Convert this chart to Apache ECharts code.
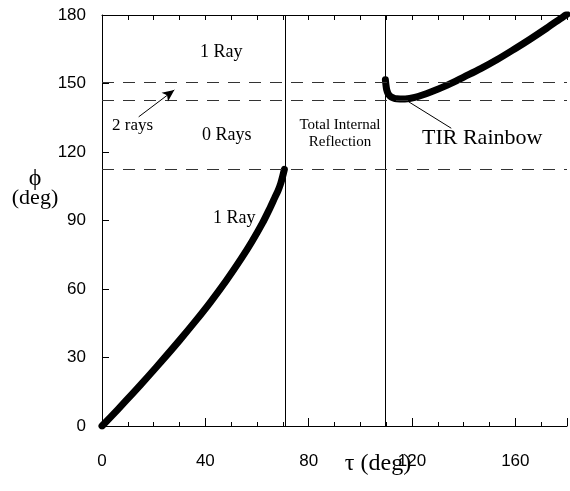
<!DOCTYPE html>
<html>
<head>
<meta charset="utf-8">
<script src="https://cdn.jsdelivr.net/npm/echarts@6/dist/echarts.min.js"></script>
<style>
  html, body { margin: 0; padding: 0; background: #fff; }
  #chart { width: 570px; height: 491px; }
</style>
</head>
<body>
<div id="chart"></div>
<script>
// curve below total internal reflection (1 ray region)
var tau1 = [0, 6, 12, 18, 24, 30, 36, 42, 48, 54, 58, 62, 65, 66.8, 68.2, 69.2, 69.9, 70.6];
var phi1 = [0, 7.1, 14.4, 21.9, 29.6, 37.5, 45.7, 54.3, 63.5, 73.5, 80.7, 88.6, 95.4, 99.8, 103.2, 106.3, 109.2, 112.4];

// TIR rainbow branch
var tau2 = [109.7, 109.9, 110.2, 110.7, 111.5, 112.6, 114.1, 117.3, 121.1, 127.5, 133.9, 140.2, 146.6, 153, 159.4, 165.7, 172.1, 178.5, 180];
var phi2 = [151.6, 149.5, 147.3, 145.7, 144.5, 143.8, 143.3, 143.2, 143.9, 146.4, 149.4, 152.9, 156.5, 160.5, 164.9, 169.4, 174.2, 179.2, 180.3];

// reference lines
var tirEdges = [70.9, 109.7];
var dashedPhi = [150.5, 142.8, 112.4];

var xTicks = [0, 40, 80, 120, 160];
var yTicks = [0, 30, 60, 90, 120, 150, 180];

function pairs(xs, ys) {
    var out = [];
    for (var i = 0; i < xs.length; i++) {
        out.push([xs[i], ys[i]]);
    }
    return out;
}

var sans = 'Liberation Sans';

var chart = echarts.init(document.getElementById('chart'));

var option = {
    animation: false,
    grid: { left: 102, top: 15, width: 470, height: 411 },
    xAxis: [{
        type: 'value',
        min: 0,
        max: 180,
        interval: 40,
        axisLine: { lineStyle: { color: '#000', width: 1 } },
        axisTick: { inside: true, length: 8, lineStyle: { color: '#000' } },
        minorTick: { show: true, splitNumber: 4, length: 4, lineStyle: { color: '#000' } },
        splitLine: { show: false },
        axisLabel: {
            color: '#000', fontFamily: sans, fontSize: 17, margin: 27,
            formatter: function (v) { return xTicks.indexOf(v) >= 0 ? String(v) : ''; }
        }
    }, {
        type: 'value',
        position: 'top',
        min: 0,
        max: 180,
        interval: 10,
        axisLine: { show: true, lineStyle: { color: '#000', width: 1 } },
        axisTick: { inside: true, length: 5, lineStyle: { color: '#000' } },
        splitLine: { show: false },
        axisLabel: { show: false }
    }],
    yAxis: {
        type: 'value',
        min: 0,
        max: 180,
        interval: 30,
        axisLine: { show: true, lineStyle: { color: '#000', width: 1 } },
        axisTick: { inside: true, length: 7, lineStyle: { color: '#000' } },
        splitLine: { show: false },
        axisLabel: {
            color: '#000', fontFamily: sans, fontSize: 17, margin: 16,
            formatter: function (v) { return yTicks.indexOf(v) >= 0 ? String(v) : ''; }
        }
    },
    series: [{
        type: 'line',
        data: pairs(tau1, phi1),
        showSymbol: false,
        smooth: 0.3,
        lineStyle: { color: '#000', width: 7, cap: 'round', join: 'round' },
        markLine: {
            silent: true,
            symbol: 'none',
            label: { show: false },
            lineStyle: { color: '#000', width: 1, type: 'solid' },
            data: tirEdges.map(function (t) { return { xAxis: t }; })
        }
    }, {
        type: 'line',
        data: pairs(tau2, phi2),
        showSymbol: false,
        smooth: 0.3,
        lineStyle: { color: '#000', width: 7, cap: 'round', join: 'round' },
        markLine: {
            silent: true,
            symbol: 'none',
            label: { show: false },
            lineStyle: { color: '#333', width: 1, type: [12, 9] },
            data: dashedPhi.map(function (p) { return { yAxis: p }; })
        }
    }, {
        // annotation pointers
        type: 'line',
        data: [],
        markLine: {
            silent: true,
            label: { show: false },
            lineStyle: { color: '#000', width: 1, type: 'solid' },
            data: [
                [{ coord: [14.2, 135.4], symbol: 'none' }, { coord: [28, 147.2], symbol: 'arrow', symbolSize: [8, 12] }],
                [{ coord: [118.7, 142], symbol: 'none' }, { coord: [135.2, 130.4], symbol: 'none' }]
            ]
        }
    }],
    graphic: [
        { type: 'text', left: 200, top: 43, style: { text: '1 Ray', font: '18px "Liberation Serif"', fill: '#000' } },
        { type: 'text', left: 112, top: 117, style: { text: '2 rays', font: '17px "Liberation Serif"', fill: '#000' } },
        { type: 'text', left: 202, top: 126, style: { text: '0 Rays', font: '18px "Liberation Serif"', fill: '#000' } },
        { type: 'text', left: 213, top: 209, style: { text: '1 Ray', font: '18px "Liberation Serif"', fill: '#000' } },
        { type: 'text', x: 340, y: 117, style: { text: 'Total Internal\nReflection', font: '15px "Liberation Serif"', fill: '#000', align: 'center', lineHeight: 17 } },
        { type: 'text', left: 422, top: 127, style: { text: 'TIR Rainbow', font: '22px "Liberation Serif"', fill: '#000' } },
        { type: 'text', x: 35, y: 167, style: { text: '\u03D5', font: '24px "Liberation Serif"', fill: '#000', align: 'center' } },
        { type: 'text', x: 35, y: 187, style: { text: '(deg)', font: '22px "Liberation Serif"', fill: '#000', align: 'center' } },
        { type: 'text', x: 378, y: 452, style: { text: '\u03C4 (deg)', font: '24px "Liberation Serif"', fill: '#000', align: 'center' } }
    ]
};

chart.setOption(option);
</script>
</body>
</html>
